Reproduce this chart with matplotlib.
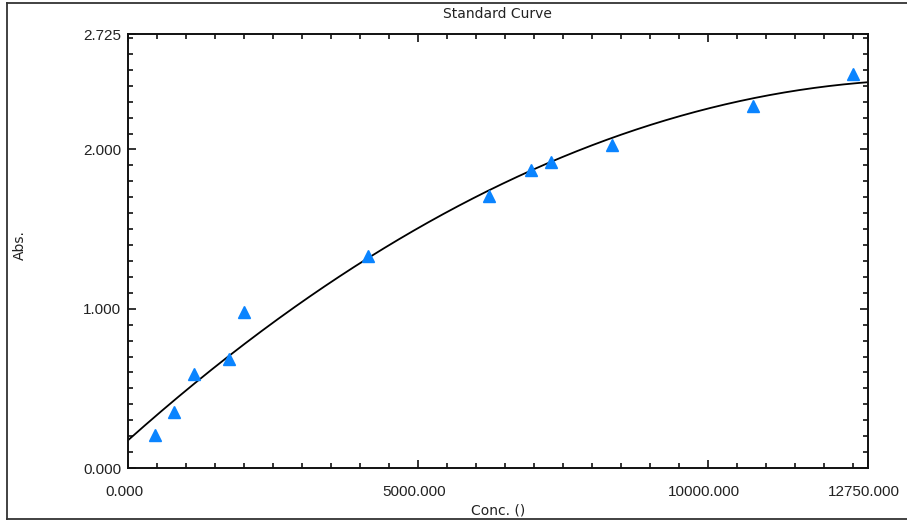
import numpy as np
import matplotlib
matplotlib.use('Agg')
import matplotlib.pyplot as plt
from matplotlib.lines import Line2D
from matplotlib.transforms import ScaledTranslation

# standards
conc = [465, 793, 1137, 1740, 1999, 4135, 6220, 6944, 7288, 8339, 10768, 12491]
absorb = [0.207, 0.352, 0.590, 0.684, 0.979, 1.331, 1.707, 1.871, 1.921, 2.028, 2.272, 2.473]

x_major = [0, 5000, 10000, 12750]
y_major = [0, 1, 2, 2.725]

plt.rcParams['font.family'] = ['Liberation Sans', 'DejaVu Sans']

fig = plt.figure(figsize=(9.07, 5.22), dpi=100)
W, H = 907, 522
ax = fig.add_axes([128 / W, 1 - 468 / H, 740 / W, 434 / H])

# quadratic fit through the standards
coef = np.polyfit(conc, absorb, 2)
xs = np.linspace(0, 12750, 400)
ax.plot(xs, np.polyval(coef, xs), color='black', lw=1.3, zorder=2)
ax.plot(conc, absorb, linestyle='none', marker='^', ms=8.5, color='#0A84FF',
        mec='#0A84FF', zorder=3, clip_on=False)

ax.set_xlim(0, 12750)
ax.set_ylim(0, 2.725)
ax.set_xticks(x_major)
ax.set_xticklabels([f'{v:.3f}' for v in x_major])
ax.set_xticks(np.arange(500, 12750, 500), minor=True)
ax.set_yticks(y_major)
ax.set_yticklabels([f'{v:.3f}' for v in y_major])
ax.set_yticks(np.arange(0.1, 2.72, 0.1), minor=True)

ax.tick_params(which='both', direction='in', top=True, right=True,
               width=1.2, colors='#111111', labelsize=11, labelcolor='#222222')
ax.tick_params(which='major', length=6)
ax.tick_params(which='minor', length=3.5)
ax.tick_params(axis='x', which='major', pad=12)
ax.tick_params(axis='y', which='major', pad=5)
for s in ax.spines.values():
    s.set_linewidth(1.4)
    s.set_color('#111111')

shift = ScaledTranslation(-4 / 100, 0, fig.dpi_scale_trans)
for lab in ax.get_xticklabels():
    lab.set_transform(lab.get_transform() + shift)

fig.text(497 / W, 1 - 14 / H, 'Standard Curve', ha='center', va='center',
         fontsize=10, family='DejaVu Sans', color='#222222')
fig.text(498 / W, 1 - 510 / H, 'Conc. ()', ha='center', va='center',
         fontsize=10, family='DejaVu Sans', color='#222222')
fig.text(20 / W, 1 - 245 / H, 'Abs.', ha='center', va='center', rotation=90,
         fontsize=10, family='DejaVu Sans', color='#222222')

# outer frame (open on the right)
fc = '#333333'
l, t, b = 7 / W, 1 - 3 / H, 1 - 519 / H
fig.add_artist(Line2D([l, l], [b, t], transform=fig.transFigure, color=fc, lw=1.3))
fig.add_artist(Line2D([l, 1], [t, t], transform=fig.transFigure, color=fc, lw=1.3))
fig.add_artist(Line2D([l, 1], [b, b], transform=fig.transFigure, color=fc, lw=1.3))

fig.savefig('out.png', dpi=100)
